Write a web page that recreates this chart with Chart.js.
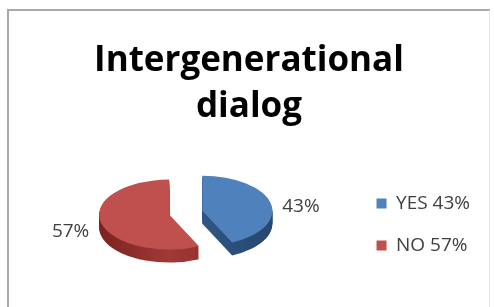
<!DOCTYPE html>
<html>
<head>
<meta charset="utf-8">
<script src="https://cdn.jsdelivr.net/npm/chart.js@4.4.0/dist/chart.umd.min.js"></script>
<style>
  html, body { margin: 0; padding: 0; background: #fff; }
  #wrap { position: relative; width: 494px; height: 307px; overflow: hidden; }
  #frame {
    position: absolute; left: 7px; top: 9px; width: 483px; height: 320px;
    border-left: 2px solid #a8a8a8; border-top: 2px solid #a8a8a8; border-right: 1px solid #e6e6e6;
    box-sizing: border-box;
  }
  canvas { position: absolute; left: 0; top: 0; }
</style>
</head>
<body>
<div id="wrap">
  <div id="frame"></div>
  <canvas id="chart" width="494" height="307"></canvas>
</div>
<script>
const categories = ["YES", "NO"];
const values = [43, 57];
const colors = ["#4f81bd", "#c0504d"];
const sideColors = [
  ["#1f3a5c", "#2f5683", "#264770"],
  ["#7a2321", "#a13936", "#862a28"],
];
const titleLines = ["Intergenerational", "dialog"];

// fake 3d: squash the pie, stack darker copies under it, pull slices apart
const TILT = 0.5;
const DEPTH = 13;
const EXPLODE = 17;
const LABEL_R = 118;

const total = values.reduce((a, b) => a + b, 0);
const pct = values.map((v) => Math.round((v / total) * 100) + "%");

const pie3d = {
  id: "pie3d",
  beforeDatasetsDraw(chart) {
    const ctx = chart.ctx;
    const arcs = chart.getDatasetMeta(0).data;

    const place = (arc, dy) => {
      const mid = (arc.startAngle + arc.endAngle) / 2;
      ctx.translate(arc.x + Math.cos(mid) * EXPLODE, arc.y + Math.sin(mid) * EXPLODE * TILT + dy);
      ctx.scale(1, TILT);
      ctx.translate(-arc.x, -arc.y);
    };

    const sideFill = (arc, i) => {
      const r = arc.outerRadius;
      const g = ctx.createLinearGradient(arc.x - r, 0, arc.x + r, 0);
      g.addColorStop(0, sideColors[i][0]);
      g.addColorStop(0.5, sideColors[i][1]);
      g.addColorStop(1, sideColors[i][2]);
      return g;
    };

    for (let d = DEPTH; d > 0; d--) {
      arcs.forEach((arc, i) => {
        ctx.save();
        place(arc, d);
        const side = Object.create(arc, {
          options: { value: { ...arc.options, backgroundColor: sideFill(arc, i) } },
        });
        arc.draw.call(side, ctx);
        ctx.restore();
      });
    }

    arcs.forEach((arc) => {
      ctx.save();
      place(arc, 0);
      arc.draw(ctx);
      ctx.restore();
    });
    return false;
  },
  afterDraw(chart) {
    const ctx = chart.ctx;
    const arcs = chart.getDatasetMeta(0).data;
    ctx.save();
    ctx.font = "19px 'Open Sans'";
    ctx.fillStyle = "#404040";
    ctx.textAlign = "center";
    ctx.textBaseline = "middle";
    arcs.forEach((arc, i) => {
      const mid = (arc.startAngle + arc.endAngle) / 2;
      const x = arc.x + Math.cos(mid) * LABEL_R;
      const y = arc.y + Math.sin(mid) * LABEL_R * TILT + DEPTH / 2;
      ctx.fillText(pct[i], x, y);
    });
    ctx.restore();
  },
};

Chart.defaults.font.family = "'Open Sans'";

new Chart(document.getElementById("chart"), {
  type: "pie",
  data: {
    labels: categories,
    datasets: [
      {
        data: values,
        backgroundColor: colors,
        borderWidth: 0,
        radius: 70,
      },
    ],
  },
  options: {
    responsive: false,
    animation: false,
    layout: { padding: { left: 18, right: 14, top: 0, bottom: 29 } },
    plugins: {
      title: {
        display: true,
        text: titleLines,
        color: "#000",
        font: { size: 35, weight: "bold", lineHeight: 1.32 },
        padding: { top: 38, bottom: 17 },
      },
      legend: {
        position: "right",
        align: "end",
        labels: {
          boxWidth: 10,
          boxHeight: 10,
          padding: 23,
          color: "#404040",
          font: { size: 19 },
          generateLabels(chart) {
            const items = Chart.overrides.pie.plugins.legend.labels.generateLabels(chart);
            return items.map((it, i) => ({ ...it, text: categories[i] + " " + pct[i] }));
          },
        },
      },
      tooltip: { enabled: false },
    },
  },
  plugins: [pie3d],
});
</script>
</body>
</html>
